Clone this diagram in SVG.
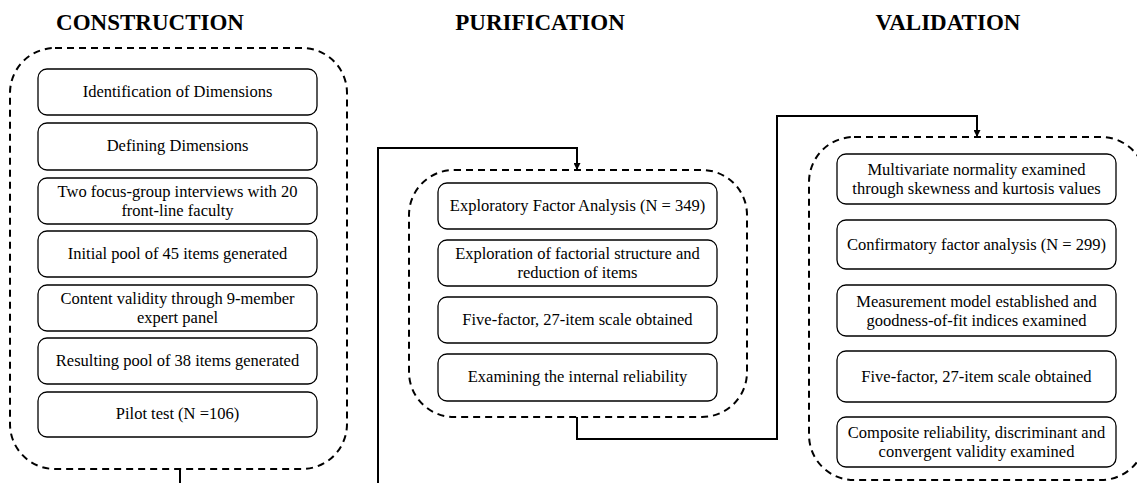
<svg xmlns="http://www.w3.org/2000/svg" width="1137" height="483" viewBox="0 0 1137 483">
<defs>
<marker id="arr" viewBox="0 0 10 10" refX="10" refY="5" markerWidth="7" markerHeight="7" markerUnits="userSpaceOnUse" orient="auto">
<path d="M0,0 L10,5 L0,10 z" fill="#000"/>
</marker>
</defs>
<style>
.title{font-family:'Liberation Serif','Times New Roman',serif;font-weight:bold;font-size:23px;fill:#000;text-anchor:middle}
.box{fill:#fff;stroke:#000;stroke-width:1.3}
.cont{fill:none;stroke:#000;stroke-width:2;stroke-dasharray:7,5}
.t{font-family:'Liberation Serif','Times New Roman',serif;font-size:16.5px;fill:#000;text-anchor:middle}
.conn{fill:none;stroke:#000;stroke-width:2}
</style>
<rect width="1137" height="483" fill="#fff"/>
<text class="title" x="150" y="30">CONSTRUCTION</text>
<text class="title" x="540" y="30">PURIFICATION</text>
<text class="title" x="948" y="30">VALIDATION</text>

<g id="connectors">
<path class="conn" d="M180,469 V483"/>
<path class="conn" d="M378,483 V148 H577 V170" marker-end="url(#arr)"/>
<path class="conn" d="M577,417 V439 H777 V116 H977 V137" marker-end="url(#arr)"/>
</g>

<g id="construction">
<rect class="cont" x="10" y="48" width="337" height="421" rx="45"/>
<g id="c1"><rect class="box" x="38" y="69" width="279" height="46" rx="9"/><text class="t" x="177.5" y="97">Identification of Dimensions</text></g>
<g id="c2"><rect class="box" x="38" y="123" width="279" height="47" rx="9"/><text class="t" x="177.5" y="151">Defining Dimensions</text></g>
<g id="c3"><rect class="box" x="38" y="178" width="279" height="46" rx="9"/><text class="t" x="177.5" y="197">Two focus-group interviews with 20</text><text class="t" x="177.5" y="216">front-line faculty</text></g>
<g id="c4"><rect class="box" x="38" y="231" width="279" height="46" rx="9"/><text class="t" x="177.5" y="259">Initial pool of 45 items generated</text></g>
<g id="c5"><rect class="box" x="38" y="285" width="279" height="46" rx="9"/><text class="t" x="177.5" y="304">Content validity through 9-member</text><text class="t" x="177.5" y="323">expert panel</text></g>
<g id="c6"><rect class="box" x="38" y="338" width="279" height="46" rx="9"/><text class="t" x="177.5" y="366">Resulting pool of 38 items generated</text></g>
<g id="c7"><rect class="box" x="38" y="392" width="279" height="45" rx="9"/><text class="t" x="177.5" y="419">Pilot test (N =106)</text></g>
</g>

<g id="purification">
<rect class="cont" x="409" y="170" width="338" height="247" rx="45"/>
<g id="p1"><rect class="box" x="438" y="183" width="279" height="46" rx="9"/><text class="t" x="577.5" y="211">Exploratory Factor Analysis (N = 349)</text></g>
<g id="p2"><rect class="box" x="438" y="240" width="279" height="46" rx="9"/><text class="t" x="577.5" y="259">Exploration of factorial structure and</text><text class="t" x="577.5" y="278">reduction of items</text></g>
<g id="p3"><rect class="box" x="438" y="297" width="279" height="46" rx="9"/><text class="t" x="577.5" y="325">Five-factor, 27-item scale obtained</text></g>
<g id="p4"><rect class="box" x="438" y="354" width="279" height="47" rx="9"/><text class="t" x="577.5" y="382">Examining the internal reliability</text></g>
</g>

<g id="validation">
<rect class="cont" x="809" y="137" width="337" height="343" rx="45"/>
<g id="v1"><rect class="box" x="837" y="154" width="279" height="50" rx="9"/><text class="t" x="976.5" y="175">Multivariate normality examined</text><text class="t" x="976.5" y="194">through skewness and kurtosis values</text></g>
<g id="v2"><rect class="box" x="837" y="220" width="279" height="49" rx="9"/><text class="t" x="976.5" y="250">Confirmatory factor analysis (N = 299)</text></g>
<g id="v3"><rect class="box" x="837" y="285" width="279" height="51" rx="9"/><text class="t" x="976.5" y="307">Measurement model established and</text><text class="t" x="976.5" y="326">goodness-of-fit indices examined</text></g>
<g id="v4"><rect class="box" x="837" y="351" width="279" height="51" rx="9"/><text class="t" x="976.5" y="382">Five-factor, 27-item scale obtained</text></g>
<g id="v5"><rect class="box" x="837" y="417" width="279" height="50" rx="9"/><text class="t" x="976.5" y="438">Composite reliability, discriminant and</text><text class="t" x="976.5" y="457">convergent validity examined</text></g>
</g>
</svg>
